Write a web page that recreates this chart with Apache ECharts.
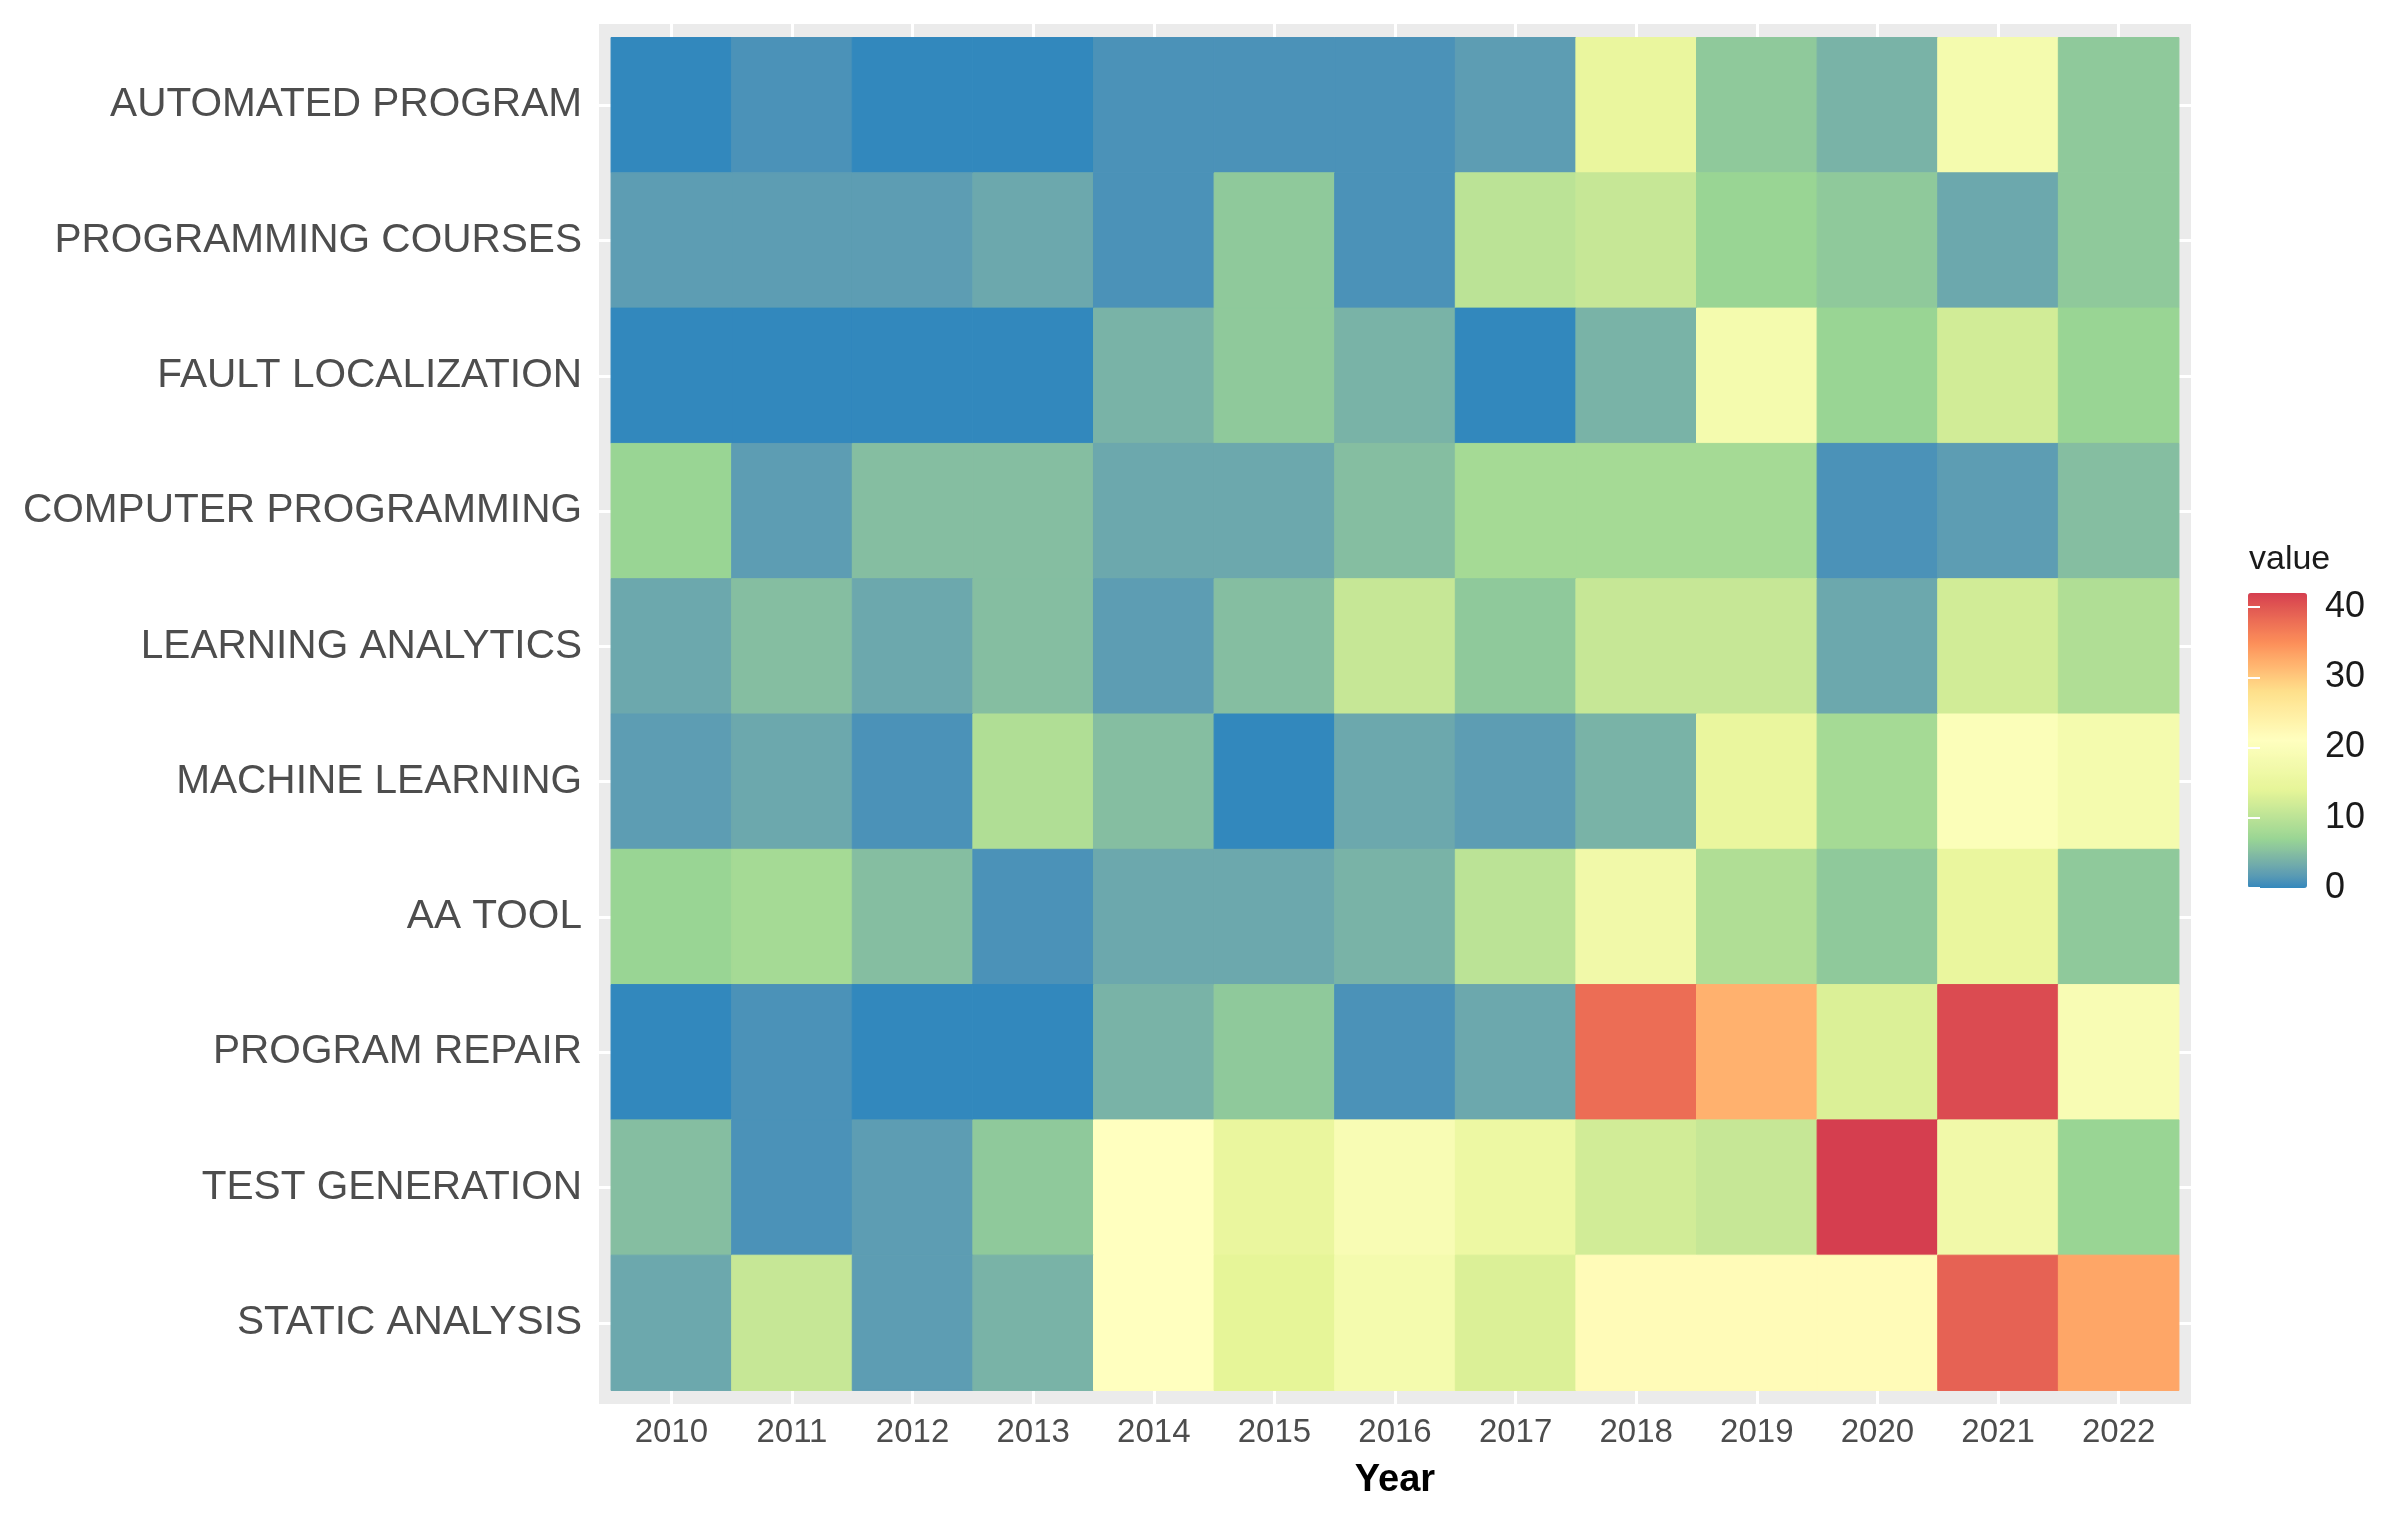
<!DOCTYPE html>
<html>
<head>
<meta charset="utf-8">
<title>Topics per year</title>
<script src="https://cdn.jsdelivr.net/npm/echarts@6/dist/echarts.min.js"></script>
<style>
  html, body { margin: 0; padding: 0; background: #fff; }
  #chart { width: 2384px; height: 1519px; }
</style>
</head>
<body>
<div id="chart"></div>
<script>
var years = ['2010','2011','2012','2013','2014','2015','2016','2017','2018','2019','2020','2021','2022'];
var topics = ['AUTOMATED PROGRAM','PROGRAMMING COURSES','FAULT LOCALIZATION','COMPUTER PROGRAMMING',
  'LEARNING ANALYTICS','MACHINE LEARNING','AA TOOL','PROGRAM REPAIR','TEST GENERATION','STATIC ANALYSIS'];

// one array per topic, values for 2010..2022
var automatedProgram    = [0, 1, 0, 0, 1, 1, 1, 2, 15, 6, 4, 18, 6];
var programmingCourses  = [2, 2, 2, 3, 1, 6, 1, 10, 11, 7, 6, 3, 6];
var faultLocalization   = [0, 0, 0, 0, 4, 6, 4, 0, 4, 18, 7, 12, 7];
var computerProgramming = [7, 2, 5, 5, 3, 3, 5, 8, 8, 8, 1, 2, 5];
var learningAnalytics   = [3, 5, 3, 5, 2, 5, 11, 6, 11, 11, 3, 12, 9];
var machineLearning     = [2, 3, 1, 9, 5, 0, 3, 2, 4, 15, 8, 20, 18];
var aaTool              = [7, 8, 5, 1, 3, 3, 4, 10, 17, 9, 6, 15, 6];
var programRepair       = [0, 1, 0, 0, 4, 6, 1, 3, 38, 32, 13, 41, 19];
var testGeneration      = [5, 1, 2, 6, 21, 15, 19, 16, 12, 11, 42, 17, 7];
var staticAnalysis      = [3, 11, 2, 4, 21, 14, 18, 13, 22, 22, 22, 39, 33];

var rows = [automatedProgram, programmingCourses, faultLocalization, computerProgramming,
  learningAnalytics, machineLearning, aaTool, programRepair, testGeneration, staticAnalysis];

var legendTicks = [0, 10, 20, 30, 40];
var spectral = ['#3288bd','#99d594','#e6f598','#ffffbf','#fee08b','#fc8d59','#d53e4f'];

var font = 'Liberation Sans, Arial, sans-serif';

// ggplot interpolates the palette in CIELAB, so build finer stops the same way
function hexToLab(hex) {
  var c = [1, 3, 5].map(function (i) {
    var v = parseInt(hex.substr(i, 2), 16) / 255;
    return v <= 0.04045 ? v / 12.92 : Math.pow((v + 0.055) / 1.055, 2.4);
  });
  var x = (0.4124 * c[0] + 0.3576 * c[1] + 0.1805 * c[2]) / 0.95047;
  var y = 0.2126 * c[0] + 0.7152 * c[1] + 0.0722 * c[2];
  var z = (0.0193 * c[0] + 0.1192 * c[1] + 0.9505 * c[2]) / 1.08883;
  function f(t) { return t > 0.008856 ? Math.cbrt(t) : 7.787 * t + 16 / 116; }
  return [116 * f(y) - 16, 500 * (f(x) - f(y)), 200 * (f(y) - f(z))];
}
function labToHex(lab) {
  var fy = (lab[0] + 16) / 116, fx = fy + lab[1] / 500, fz = fy - lab[2] / 200;
  function g(t) { return t > 0.206893 ? t * t * t : (t - 16 / 116) / 7.787; }
  var x = g(fx) * 0.95047, y = g(fy), z = g(fz) * 1.08883;
  var rgb = [
     3.2406 * x - 1.5372 * y - 0.4986 * z,
    -0.9689 * x + 1.8758 * y + 0.0415 * z,
     0.0557 * x - 0.2040 * y + 1.0570 * z
  ];
  return '#' + rgb.map(function (v) {
    v = v <= 0.0031308 ? 12.92 * v : 1.055 * Math.pow(v, 1 / 2.4) - 0.055;
    var n = Math.max(0, Math.min(255, Math.round(v * 255)));
    return (n < 16 ? '0' : '') + n.toString(16);
  }).join('');
}
var labStops = spectral.map(hexToLab);
var rampColors = [];
for (var k = 0; k <= 84; k++) {
  var t = k / 84 * (labStops.length - 1);
  var i0 = Math.min(Math.floor(t), labStops.length - 2), f = t - i0;
  rampColors.push(labToHex([0, 1, 2].map(function (j) {
    return labStops[i0][j] + (labStops[i0 + 1][j] - labStops[i0][j]) * f;
  })));
}

var data = [];
for (var r = 0; r < rows.length; r++) {
  for (var c = 0; c < years.length; c++) {
    data.push([c, r, rows[r][c]]);
  }
}

function renderTile(params, api) {
  var x = api.value(0), y = api.value(1);
  var a = api.coord([x - 0.5, y - 0.5]);
  var b = api.coord([x + 0.5, y + 0.5]);
  var color = api.visual('color');
  return {
    type: 'rect',
    shape: {
      x: Math.min(a[0], b[0]), y: Math.min(a[1], b[1]),
      width: Math.abs(b[0] - a[0]), height: Math.abs(b[1] - a[1])
    },
    style: { fill: color, stroke: color, lineWidth: 1 }
  };
}

var chart = echarts.init(document.getElementById('chart'));
var option = {
  animation: false,
  backgroundColor: '#ffffff',
  title: {
    text: 'value',
    left: 2249, top: 543, padding: 0,
    textStyle: { fontFamily: font, fontSize: 34, fontWeight: 'normal', color: '#1a1a1a' }
  },
  grid: [
    { left: 599, top: 24, width: 1592, height: 1380, show: true,
      backgroundColor: '#ebebeb', borderWidth: 0 },
    { left: 2248, top: 593, width: 59, height: 295 }
  ],
  xAxis: [
    {
      gridIndex: 0, type: 'value', min: -0.6, max: 12.6,
      name: 'Year', nameLocation: 'middle', nameGap: 58,
      nameTextStyle: { fontFamily: font, fontSize: 38, fontWeight: 'bold', color: '#000' },
      axisLine: { show: false },
      axisTick: { show: true, length: 9, lineStyle: { color: '#333', width: 2 },
        customValues: years.map(function (d, i) { return i; }) },
      axisLabel: { margin: 12, fontFamily: font, fontSize: 33, color: '#4d4d4d',
        customValues: years.map(function (d, i) { return i; }),
        formatter: function (v) { return years[Math.round(v)]; } },
      splitLine: { show: true, lineStyle: { color: '#ffffff', width: 3 } }
    },
    { gridIndex: 1, type: 'value', show: false, min: 0, max: 1 }
  ],
  yAxis: [
    {
      gridIndex: 0, type: 'value', min: -0.6, max: 9.6, inverse: true,
      axisLine: { show: false },
      axisTick: { show: true, length: 9, lineStyle: { color: '#333', width: 2 },
        customValues: topics.map(function (d, i) { return i; }) },
      axisLabel: { margin: 17, fontFamily: font, fontSize: 40.6, color: '#4d4d4d',
        customValues: topics.map(function (d, i) { return i; }),
        formatter: function (v) { return topics[Math.round(v)]; } },
      splitLine: { show: true, lineStyle: { color: '#ffffff', width: 3 } }
    },
    {
      gridIndex: 1, type: 'value', min: 0, max: 42, position: 'right', z: 10,
      axisLine: { show: false },
      axisTick: { show: true, inside: true, length: 12, lineStyle: { color: '#ffffff', width: 2 },
        customValues: legendTicks },
      axisLabel: { margin: 18, fontFamily: font, fontSize: 36, color: '#1a1a1a',
        customValues: legendTicks },
      splitLine: { show: false }
    },
    {
      gridIndex: 1, type: 'value', min: 0, max: 42, position: 'left', z: 10,
      axisLine: { show: false },
      axisTick: { show: true, inside: true, length: 12, lineStyle: { color: '#ffffff', width: 2 },
        customValues: legendTicks },
      axisLabel: { show: false },
      splitLine: { show: false }
    }
  ],
  visualMap: {
    type: 'continuous',
    seriesIndex: 0, dimension: 2,
    min: 0, max: 42,
    calculable: false, hoverLink: false,
    left: 2248, top: 593, padding: 0,
    itemWidth: 59, itemHeight: 295,
    text: null, showLabel: false,
    inRange: { color: rampColors }
  },
  series: [{
    type: 'custom',
    xAxisIndex: 0, yAxisIndex: 0,
    renderItem: renderTile,
    encode: { x: 0, y: 1 },
    data: data
  }]
};
chart.setOption(option);
</script>
</body>
</html>
